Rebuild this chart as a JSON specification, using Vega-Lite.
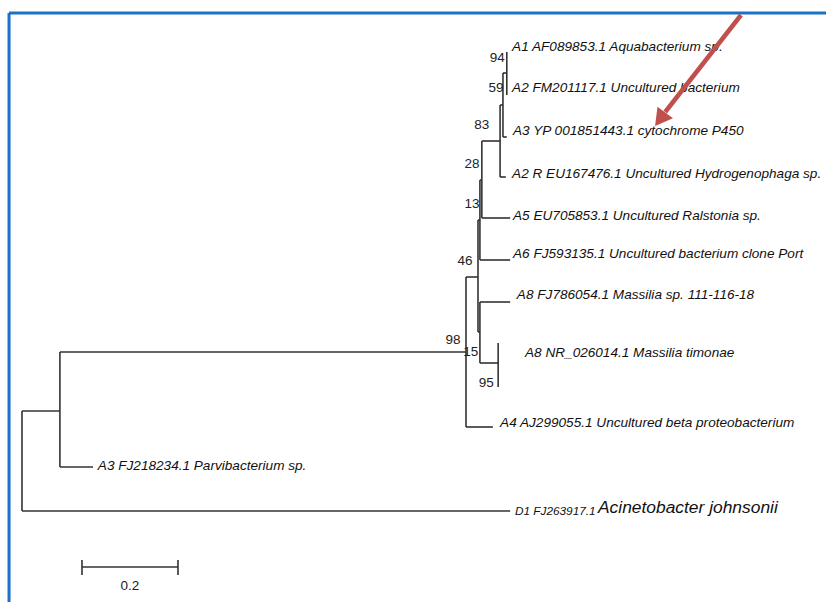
{
  "$schema": "https://vega.github.io/schema/vega-lite/v6.json",
  "autosize": {"type": "none"},
  "width": 826,
  "height": 602,
  "padding": 0,
  "background": "white",
  "config": {"view": {"stroke": null}},
  "datasets": {
    "branches": [
      {"x": 0, "y": 411, "x2": 0, "y2": 511},
      {"x": 0, "y": 411, "x2": 0.079, "y2": 411},
      {"x": 0, "y": 511, "x2": 1.017, "y2": 511},
      {"x": 0.079, "y": 352, "x2": 0.079, "y2": 467},
      {"x": 0.079, "y": 352, "x2": 0.925, "y2": 352},
      {"x": 0.079, "y": 467, "x2": 0.148, "y2": 467},
      {"x": 0.925, "y": 277, "x2": 0.925, "y2": 427},
      {"x": 0.925, "y": 427, "x2": 0.981, "y2": 427},
      {"x": 0.925, "y": 277, "x2": 0.95, "y2": 277},
      {"x": 1.010, "y": 52, "x2": 1.010, "y2": 95},
      {"x": 1.002, "y": 73, "x2": 1.010, "y2": 73},
      {"x": 1.002, "y": 73, "x2": 1.002, "y2": 137},
      {"x": 1.002, "y": 137, "x2": 1.010, "y2": 137},
      {"x": 0.996, "y": 105, "x2": 1.002, "y2": 105},
      {"x": 0.996, "y": 105, "x2": 0.996, "y2": 177},
      {"x": 0.996, "y": 177, "x2": 1.008, "y2": 177},
      {"x": 0.958, "y": 141, "x2": 0.996, "y2": 141},
      {"x": 0.958, "y": 141, "x2": 0.958, "y2": 218},
      {"x": 0.958, "y": 218, "x2": 1.017, "y2": 218},
      {"x": 0.954, "y": 180, "x2": 0.958, "y2": 180},
      {"x": 0.954, "y": 180, "x2": 0.954, "y2": 260},
      {"x": 0.954, "y": 260, "x2": 1.017, "y2": 260},
      {"x": 0.95, "y": 220, "x2": 0.954, "y2": 220},
      {"x": 0.95, "y": 220, "x2": 0.95, "y2": 332},
      {"x": 0.95, "y": 332, "x2": 0.954, "y2": 332},
      {"x": 0.954, "y": 302, "x2": 0.954, "y2": 363},
      {"x": 0.954, "y": 302, "x2": 1.017, "y2": 302},
      {"x": 0.954, "y": 363, "x2": 0.992, "y2": 363},
      {"x": 0.992, "y": 343, "x2": 0.992, "y2": 387}
    ],
    "scalebar": [
      {"x": 0.125, "y": 567, "x2": 0.325, "y2": 567},
      {"x": 0.125, "y": 560, "x2": 0.125, "y2": 575},
      {"x": 0.325, "y": 560, "x2": 0.325, "y2": 575}
    ],
    "leaves": [
      {"x": 1.021, "y": 47, "label": "A1 AF089853.1 Aquabacterium sp."},
      {"x": 1.021, "y": 88, "label": "A2 FM201117.1 Uncultured bacterium"},
      {"x": 1.023, "y": 131, "label": "A3 YP 001851443.1  cytochrome P450"},
      {"x": 1.021, "y": 174, "label": "A2 R EU167476.1 Uncultured Hydrogenophaga sp."},
      {"x": 1.023, "y": 216, "label": "A5 EU705853.1  Uncultured Ralstonia sp."},
      {"x": 1.023, "y": 254, "label": "A6 FJ593135.1 Uncultured bacterium clone Port"},
      {"x": 1.031, "y": 295, "label": "A8 FJ786054.1 Massilia sp. 111-116-18"},
      {"x": 1.048, "y": 353, "label": "A8 NR_026014.1 Massilia timonae"},
      {"x": 0.996, "y": 423, "label": "A4 AJ299055.1 Uncultured beta proteobacterium"},
      {"x": 0.158, "y": 466, "label": "A3 FJ218234.1 Parvibacterium sp."}
    ],
    "accession": [
      {"x": 1.027, "y": 511, "label": "D1 FJ263917.1"}
    ],
    "species": [
      {"x": 1.2, "y": 508, "label": "Acinetobacter johnsonii"}
    ],
    "support": [
      {"x": 0.990, "y": 58, "label": "94"},
      {"x": 0.9875, "y": 88, "label": "59"},
      {"x": 0.958, "y": 125, "label": "83"},
      {"x": 0.9375, "y": 164, "label": "28"},
      {"x": 0.9375, "y": 204, "label": "13"},
      {"x": 0.923, "y": 261, "label": "46"},
      {"x": 0.898, "y": 340, "label": "98"},
      {"x": 0.935, "y": 352, "label": "15"},
      {"x": 0.967, "y": 383, "label": "95"},
      {"x": 0.225, "y": 586, "label": "0.2"}
    ],
    "border": [
      {"x": -0.027, "y": 13, "x2": 1.675, "y2": 13},
      {"x": -0.027, "y": 13, "x2": -0.027, "y2": 602}
    ],
    "arrow": [
      {"x": 1.498, "y": 15, "x2": 1.34, "y2": 112}
    ],
    "arrowhead": [
      {"x": 1.333, "y": 117}
    ]
  },
  "layer": [
    {
      "data": {"name": "border"},
      "mark": {"type": "rule", "color": "#1a72c6", "strokeWidth": 3},
      "encoding": {
        "x": {"field": "x", "type": "quantitative", "scale": {"domain": [-0.0458, 1.675], "nice": false, "zero": false}, "axis": null},
        "y": {"field": "y", "type": "quantitative", "scale": {"domain": [0, 602], "reverse": true, "nice": false, "zero": false}, "axis": null},
        "x2": {"field": "x2"},
        "y2": {"field": "y2"}
      }
    },
    {
      "data": {"name": "branches"},
      "mark": {"type": "rule", "color": "#333333", "strokeWidth": 1.6},
      "encoding": {
        "x": {"field": "x", "type": "quantitative"},
        "y": {"field": "y", "type": "quantitative"},
        "x2": {"field": "x2"},
        "y2": {"field": "y2"}
      }
    },
    {
      "data": {"name": "scalebar"},
      "mark": {"type": "rule", "color": "#333333", "strokeWidth": 1.6},
      "encoding": {
        "x": {"field": "x", "type": "quantitative"},
        "y": {"field": "y", "type": "quantitative"},
        "x2": {"field": "x2"},
        "y2": {"field": "y2"}
      }
    },
    {
      "data": {"name": "leaves"},
      "mark": {"type": "text", "align": "left", "baseline": "middle", "font": "Liberation Sans", "fontStyle": "italic", "fontSize": 13.6, "color": "#111111"},
      "encoding": {
        "x": {"field": "x", "type": "quantitative"},
        "y": {"field": "y", "type": "quantitative"},
        "text": {"field": "label"}
      }
    },
    {
      "data": {"name": "accession"},
      "mark": {"type": "text", "align": "left", "baseline": "middle", "font": "Liberation Sans", "fontStyle": "italic", "fontSize": 11.8, "color": "#111111"},
      "encoding": {
        "x": {"field": "x", "type": "quantitative"},
        "y": {"field": "y", "type": "quantitative"},
        "text": {"field": "label"}
      }
    },
    {
      "data": {"name": "species"},
      "mark": {"type": "text", "align": "left", "baseline": "middle", "font": "Liberation Sans", "fontStyle": "italic", "fontSize": 17.4, "color": "#111111"},
      "encoding": {
        "x": {"field": "x", "type": "quantitative"},
        "y": {"field": "y", "type": "quantitative"},
        "text": {"field": "label"}
      }
    },
    {
      "data": {"name": "support"},
      "mark": {"type": "text", "align": "center", "baseline": "middle", "font": "Liberation Sans", "fontSize": 13.5, "color": "#222222"},
      "encoding": {
        "x": {"field": "x", "type": "quantitative"},
        "y": {"field": "y", "type": "quantitative"},
        "text": {"field": "label"}
      }
    },
    {
      "data": {"name": "arrow"},
      "mark": {"type": "rule", "color": "#c0504d", "strokeWidth": 4.5},
      "encoding": {
        "x": {"field": "x", "type": "quantitative"},
        "y": {"field": "y", "type": "quantitative"},
        "x2": {"field": "x2"},
        "y2": {"field": "y2"}
      }
    },
    {
      "data": {"name": "arrowhead"},
      "mark": {"type": "point", "shape": "triangle", "filled": true, "color": "#c0504d", "opacity": 1, "size": 380, "angle": 217},
      "encoding": {
        "x": {"field": "x", "type": "quantitative"},
        "y": {"field": "y", "type": "quantitative"}
      }
    }
  ]
}
